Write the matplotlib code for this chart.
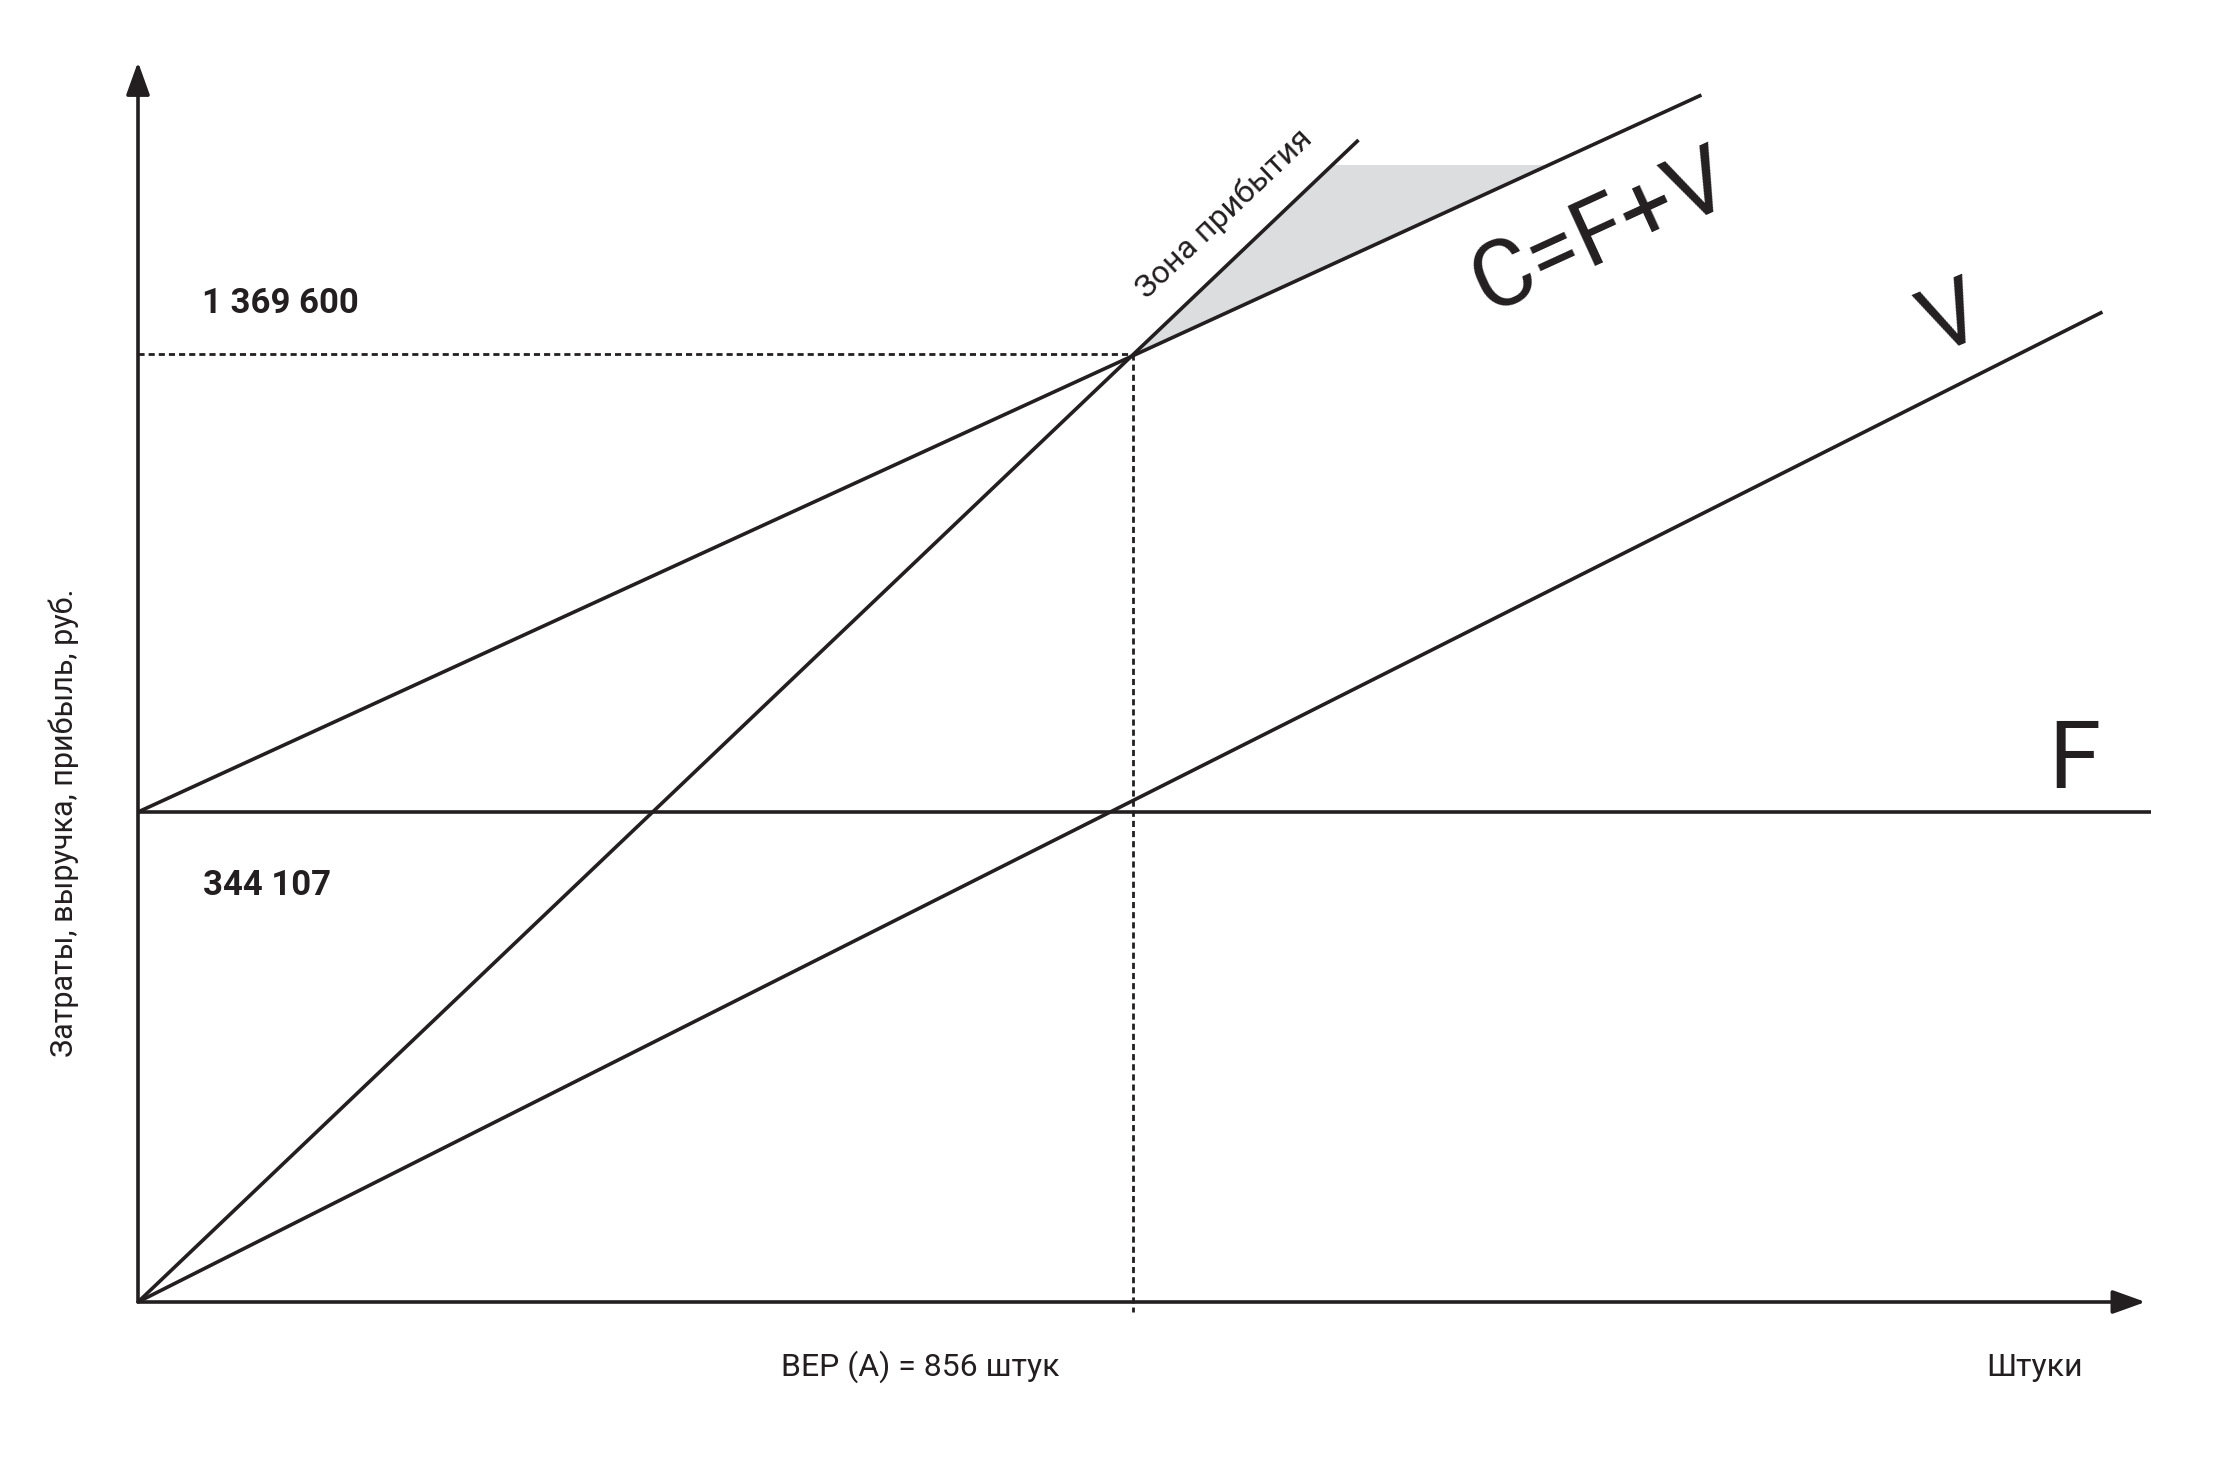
import numpy as np
import matplotlib
matplotlib.use('Agg')
import matplotlib.pyplot as plt

plt.rcParams['font.family'] = ['Roboto', 'DejaVu Sans']

# schematic chart: x in pieces (BEP = 856), y in arbitrary units
x_bep = 856
y_bep = 948
y_fixed = 490

c_x = [0, 1345]      # C = F + V
c_y = [490, 1207]
rev_x = [0, 1050]    # revenue line
rev_y = [0, 1162]
v_x = [0, 1690]      # variable costs
v_y = [0, 990]
f_x = [0, 1732]      # fixed costs
f_y = [490, 490]
x_axis_end = 1727
y_axis_end = 1240
shade_top = 1137

label_bep_rev = '1 369 600'
label_fixed = '344 107'
label_bep_x = 'BEP (A) = 856 штук'
label_x = 'Штуки'
label_y = 'Затраты, выручка, прибыль, руб.'
label_zone = 'Зона прибытия'

ink = '#231f20'
K = 856 / 995  # pieces per pixel

fig = plt.figure(figsize=(22.33, 14.61), dpi=100)
ax = fig.add_axes([0, 0, 1, 1])
ax.set_xlim(-138 * K, (2233 - 138) * K)
ax.set_ylim(-159, 1302)
ax.axis('off')

# shaded profit zone
x_rev_top = np.interp(shade_top, rev_y, rev_x)
x_c_top = np.interp(shade_top, c_y, c_x)
ax.fill([x_bep, x_rev_top, x_c_top], [y_bep, shade_top, shade_top],
        color='#dcdddf', lw=0, zorder=1)

lw = 2.6
ax.plot(c_x, c_y, color=ink, lw=lw, solid_capstyle='butt', zorder=3)
ax.plot(rev_x, rev_y, color=ink, lw=lw, solid_capstyle='butt', zorder=3)
ax.plot(v_x, v_y, color=ink, lw=lw, solid_capstyle='butt', zorder=3)
ax.plot(f_x, f_y, color=ink, lw=lw, solid_capstyle='butt', zorder=3)

# dashed guides
ax.plot([0, x_bep], [y_bep, y_bep], color=ink, lw=2.0, ls=(0, (2.2, 1.45)), zorder=2)
ax.plot([x_bep, x_bep], [y_bep, -10], color=ink, lw=2.0, ls=(0, (2.2, 1.45)), zorder=2)

# axes with arrows
arrow = dict(arrowstyle='-|>,head_length=2.0,head_width=0.72', mutation_scale=10,
             color=ink, lw=lw, shrinkA=0, shrinkB=0)
ax.annotate('', xy=(0, y_axis_end), xytext=(0, 0), arrowprops=arrow, zorder=4)
ax.annotate('', xy=(x_axis_end, 0), xytext=(0, 0), arrowprops=arrow, zorder=4)


def angle(xs, ys):
    return np.degrees(np.arctan2(ys[1] - ys[0], xs[1] - xs[0]))


ax.text(55, 989, label_bep_rev, fontsize=25, fontweight='bold', color=ink,
        ha='left', va='baseline')
ax.text(56, 407, label_fixed, fontsize=25, fontweight='bold', color=ink,
        ha='left', va='baseline')
ax.text(673, -74, label_bep_x, fontsize=23, color=ink, ha='center', va='baseline')
ax.text(1632, -74, label_x, fontsize=23, color=ink, ha='center', va='baseline')
ax.text(-64, 479, label_y, fontsize=22, color=ink, ha='center', va='center',
        rotation=90)

ax.text(940, 1082, label_zone, fontsize=23, color=ink, ha='center', va='baseline',
        rotation=angle(rev_x, rev_y), rotation_mode='anchor',
        transform_rotates_text=True)
ax.text(1268, 1046, 'C=F+V', fontsize=67, color=ink, ha='center', va='baseline',
        rotation=angle(c_x, c_y), rotation_mode='anchor',
        transform_rotates_text=True)
ax.text(1569, 958, 'V', fontsize=65, color=ink, ha='center', va='baseline',
        rotation=23, rotation_mode='anchor')
ax.text(1666, 514, 'F', fontsize=68, color=ink, ha='center', va='baseline')

fig.savefig('out.png', dpi=100)
